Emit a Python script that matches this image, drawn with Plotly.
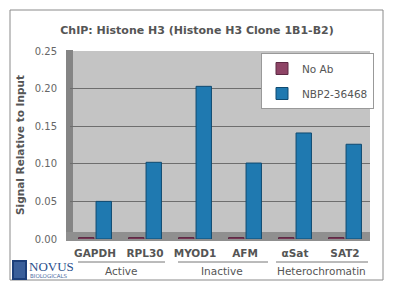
import plotly.graph_objects as go

categories = ["GAPDH", "RPL30", "MYOD1", "AFM", "αSat", "SAT2"]
no_ab = [0.002, 0.002, 0.002, 0.002, 0.002, 0.002]
nbp2 = [0.050, 0.102, 0.203, 0.101, 0.141, 0.126]
groups = ["Active", "Inactive", "Heterochromatin"]
y_ticks = [0.00, 0.05, 0.10, 0.15, 0.20, 0.25]

W, H = 400, 298
ML, MR, MT, MB = 70, 30, 51, 59
pw = W - ML - MR
ph = H - MT - MB

def px(x):
    return (x - ML) / pw

def py(y):
    return (H - MB - y) / ph

fig = go.Figure()
fig.add_trace(go.Bar(x=categories, y=no_ab, name="No Ab", legendgroup="a",
                     marker=dict(color="#8e4466", line=dict(color="#5e2a44", width=1))))
fig.add_trace(go.Bar(x=categories, y=nbp2, name="NBP2-36468", legendgroup="b",
                     marker=dict(color="#1f79b0", line=dict(color="#0f4a70", width=1))))

font_main = "DejaVu Sans, Verdana, sans-serif"
grey = "#555555"

shapes = [
    dict(type="rect", xref="paper", yref="paper", x0=px(10), x1=px(383), y0=py(280), y1=py(10),
         line=dict(color="#8a8a8a", width=1), fillcolor="rgba(0,0,0,0)", layer="below"),
    dict(type="rect", xref="paper", yref="paper", x0=px(66), x1=px(73), y0=py(238), y1=py(50),
         line=dict(width=0), fillcolor="#858585", layer="below"),
    dict(type="rect", xref="paper", yref="paper", x0=px(66), x1=1.0, y0=py(241), y1=py(232),
         line=dict(width=0), fillcolor="#8f8f8f", layer="below"),
]
for (a, b) in [(78, 165), (178, 268), (276, 368)]:
    shapes.append(dict(type="line", xref="paper", yref="paper", x0=px(a), x1=px(b),
                       y0=py(262), y1=py(262), line=dict(color="#777777", width=1)))
shapes.append(dict(type="rect", xref="paper", yref="paper", x0=px(13), x1=px(26), y0=py(279), y1=py(261),
                   line=dict(color="#1c3f7a", width=2), fillcolor="#3a5f9a"))

annotations = []
for g, cx in zip(groups, [121, 222, 321]):
    annotations.append(dict(text=g, xref="paper", yref="paper", x=px(cx), y=py(271),
                            showarrow=False, font=dict(family=font_main, size=10.5, color=grey),
                            xanchor="center", yanchor="middle"))
annotations.append(dict(text="NOVUS", xref="paper", yref="paper", x=px(27), y=py(266),
                        showarrow=False, xanchor="left", yanchor="middle",
                        font=dict(family="Liberation Serif, serif", size=13, color="#2a4f8c")))
annotations.append(dict(text="BIOLOGICALS", xref="paper", yref="paper", x=px(28), y=py(276),
                        showarrow=False, xanchor="left", yanchor="middle",
                        font=dict(family="DejaVu Sans, sans-serif", size=5.5, color="#4a6aa0")))

fig.update_layout(
    width=W, height=H,
    margin=dict(l=ML, r=MR, t=MT, b=MB),
    paper_bgcolor="white",
    plot_bgcolor="#c4c4c4",
    barmode="group",
    bargap=0.3,
    bargroupgap=0.12,
    showlegend=True,
    title=dict(text="<b>ChIP: Histone H3 (Histone H3 Clone 1B1-B2)</b>",
               x=0.4925, xanchor="center", y=1 - 30 / H, yanchor="middle",
               font=dict(family=font_main, size=11, color=grey)),
    legend=dict(x=px(261), y=py(53), xanchor="left", yanchor="top",
                bgcolor="white", bordercolor="#999999", borderwidth=1,
                font=dict(family=font_main, size=10.5, color=grey),
                itemwidth=30, tracegroupgap=6),
    xaxis=dict(tickfont=dict(family=font_main, size=10.5, color=grey),
               showline=False, showgrid=False, ticks="", ticklabelstandoff=6,
               tickprefix="<b>", ticksuffix="</b>"),
    yaxis=dict(range=[0, 0.25], tickvals=y_ticks, tickformat=".2f",
               tickfont=dict(family=font_main, size=10, color="#666666"),
               showgrid=True, gridcolor="#6e6e6e", gridwidth=1,
               zeroline=False, showline=False, ticks="", ticklabelstandoff=12,
               title=dict(text="<b>Signal Relative to Input</b>", standoff=8,
                          font=dict(family=font_main, size=10.5, color=grey))),
    shapes=shapes,
    annotations=annotations,
)

fig.write_html("out.html")
